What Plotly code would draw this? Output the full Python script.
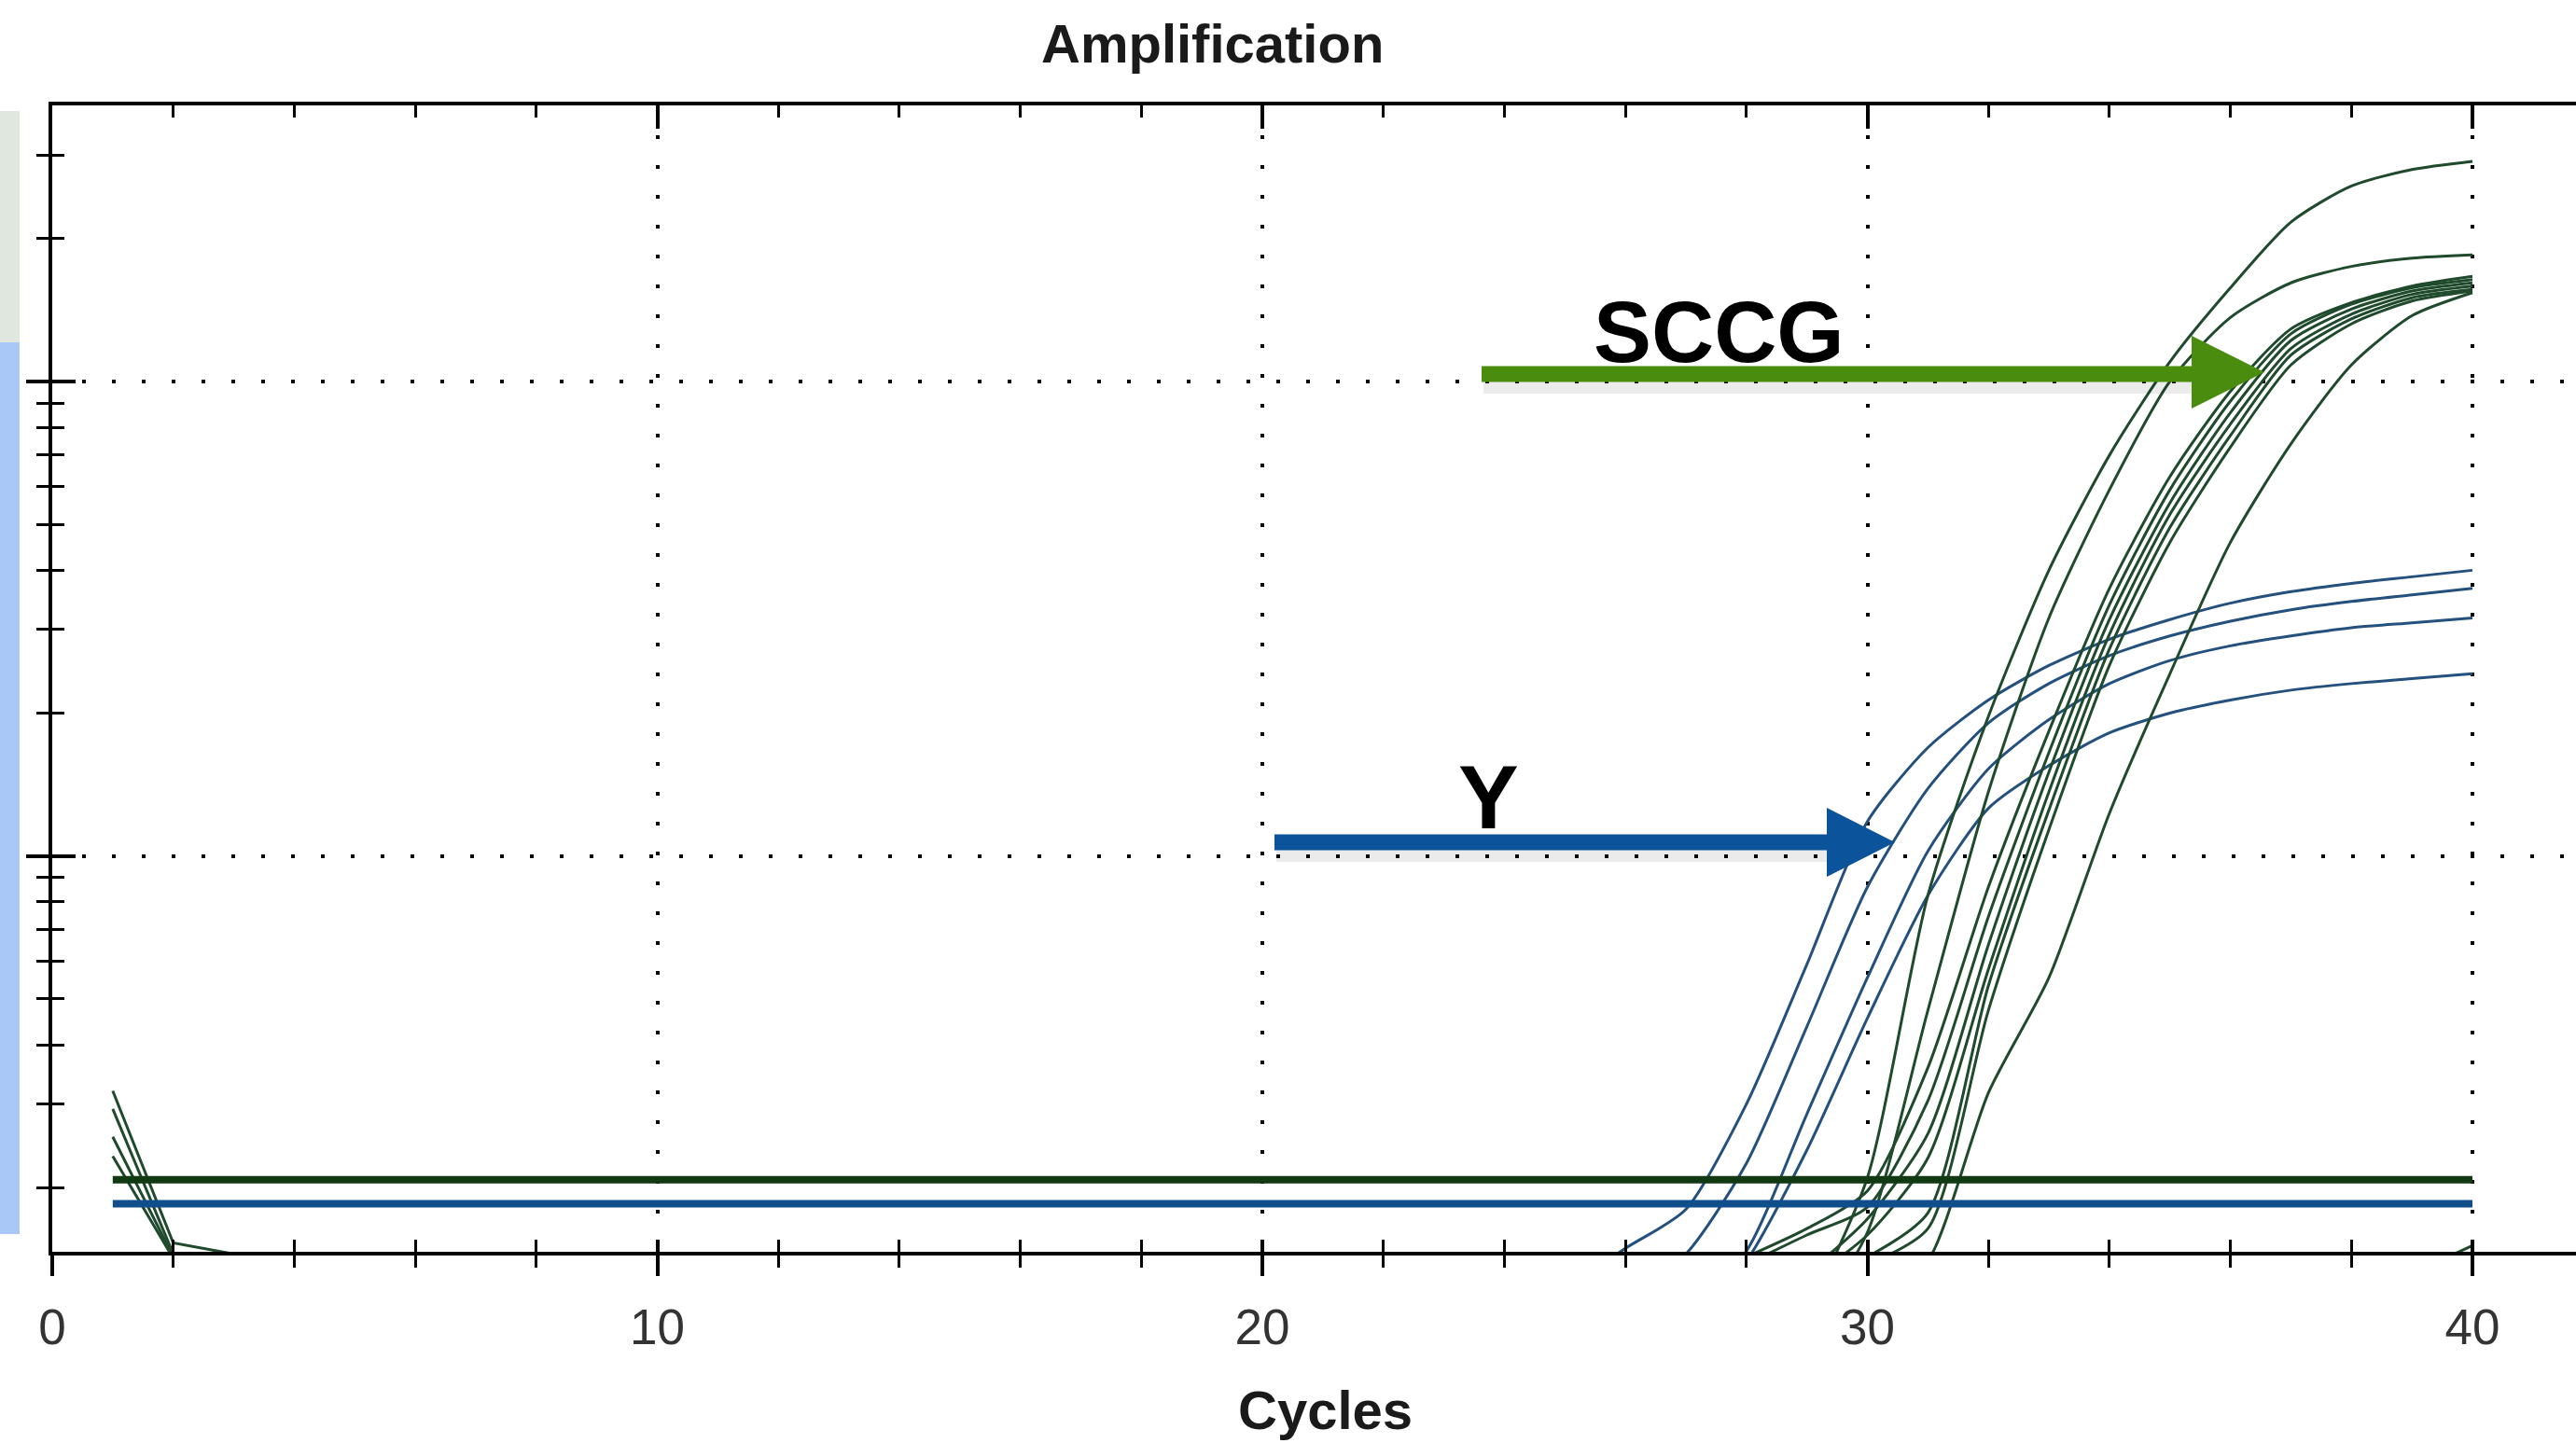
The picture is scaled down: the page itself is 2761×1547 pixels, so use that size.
import plotly.graph_objects as go

# ---------------- data ----------------
# early-cycle artefacts of the SCCG wells (cycles 1-3)
early_cycles = [1, 2, 3]
sccg_early = [
    [0.0320, 0.0153, 0.0145],
    [0.0293, 0.0145, 0.0138],
    [0.0256, 0.0143, 0.0132],
    [0.0233, 0.0142, 0.0127],
]

# Y-chromosome target (blue), cycles 25-40
y_cycles = list(range(25, 41))
y_curve_1 = [0.0122, 0.0149, 0.0180, 0.0300, 0.0591, 0.1182, 0.1692, 0.2131, 0.2520, 0.2862, 0.3149, 0.3410, 0.3606, 0.3754, 0.3875, 0.4000]
y_curve_2 = [None, 0.0117, 0.0145, 0.0225, 0.0437, 0.0860, 0.1387, 0.1907, 0.2308, 0.2643, 0.2908, 0.3124, 0.3303, 0.3438, 0.3549, 0.3663]
y_curve_3 = [None, None, 0.0108, 0.0147, 0.0286, 0.0554, 0.1024, 0.1526, 0.1937, 0.2308, 0.2581, 0.2772, 0.2908, 0.3026, 0.3099, 0.3174]
y_curve_4 = [None, None, 0.0100, 0.0140, 0.0240, 0.0455, 0.0826, 0.1260, 0.1550, 0.1817, 0.2000, 0.2131, 0.2236, 0.2308, 0.2364, 0.2421]
y_curves = [y_curve_1, y_curve_2, y_curve_3, y_curve_4]

# SCCG reference target (green), cycles 28-40
sccg_cycles = list(range(28, 41))
sccg_curve_1 = [None, 0.0108, 0.0210, 0.0826, 0.1968, 0.4000, 0.6987, 1.100, 1.575, 2.166, 2.581, 2.795, 2.909]
sccg_curve_2 = [None, 0.0100, 0.0161, 0.0473, 0.1365, 0.3174, 0.5910, 1.000, 1.364, 1.613, 1.747, 1.818, 1.847]
sccg_curve_3 = [0.0143, 0.0164, 0.0197, 0.0358, 0.0860, 0.1832, 0.3663, 0.6300, 0.9533, 1.290, 1.466, 1.588, 1.665]
sccg_curve_4 = [0.0138, 0.0159, 0.0182, 0.0305, 0.0745, 0.1652, 0.3383, 0.5910, 0.9089, 1.260, 1.454, 1.575, 1.639]
sccg_curve_5 = [None, 0.0132, 0.0172, 0.0260, 0.0650, 0.1502, 0.3149, 0.5546, 0.8597, 1.220, 1.420, 1.550, 1.613]
sccg_curve_6 = [None, 0.0127, 0.0159, 0.0231, 0.0577, 0.1365, 0.2931, 0.5244, 0.8130, 1.173, 1.386, 1.525, 1.588]
sccg_curve_7 = [None, None, 0.0143, 0.0177, 0.0533, 0.1250, 0.2729, 0.4922, 0.7689, 1.136, 1.354, 1.501, 1.562]
sccg_curve_8 = [None, None, 0.0138, 0.0164, 0.0473, 0.1136, 0.2520, 0.4581, 0.7271, 1.083, 1.322, 1.477, 1.550]
sccg_curve_9 = [None, None, 0.0108, 0.0140, 0.0317, 0.0554, 0.1230, 0.2421, 0.4581, 0.7388, 1.083, 1.375, 1.538]
sccg_curve_10 = [None, None, None, None, None, None, None, None, None, None, None, 0.0132, 0.0151]
sccg_curves = [sccg_curve_1, sccg_curve_2, sccg_curve_3, sccg_curve_4, sccg_curve_5,
               sccg_curve_6, sccg_curve_7, sccg_curve_8, sccg_curve_9, sccg_curve_10]

# thresholds
threshold_cycles = [1, 40]
sccg_threshold = 0.0208
y_threshold = 0.0185

# axis ticks
x_major_ticks = [0, 10, 20, 30, 40]
x_tick_labels = ["0", "10", "20", "30", "40"]
y_major_ticks = [0.1, 1]
y_minor_ticks = [0.02, 0.03, 0.04, 0.05, 0.06, 0.07, 0.08, 0.09,
                 0.2, 0.3, 0.4, 0.5, 0.6, 0.7, 0.8, 0.9, 2, 3]

# ---------------- styling / layout helpers ----------------
W, H = 2761, 1547
PL, PT, PB = 56, 113, 1342          # plot-area pixel edges
X_RANGE = [0, (W - PL) / 64.85]
Y_RANGE = [-1.834, 0.5816]
FONT = "Liberation Sans, Arial, sans-serif"

GREEN_CURVE = "#1f4a2c"
BLUE_CURVE = "#24507e"
GREEN_THR = "#113a12"
BLUE_THR = "#0f4e8b"
GREEN_ARROW = "#4a8c0d"
BLUE_ARROW = "#0b539a"


def px(X):
    return (X - PL) / (W - PL)


def py(Y):
    return (PB - Y) / (PB - PT)


fig = go.Figure()

for vals in sccg_early:
    fig.add_trace(go.Scatter(x=early_cycles, y=vals, mode="lines",
                             line=dict(color=GREEN_CURVE, width=3),
                             hoverinfo="skip", showlegend=False))

for vals in y_curves:
    fig.add_trace(go.Scatter(x=y_cycles, y=vals, mode="lines",
                             line=dict(color=BLUE_CURVE, width=3, shape="spline", smoothing=0.7),
                             connectgaps=False, hoverinfo="skip", showlegend=False))

for vals in sccg_curves:
    fig.add_trace(go.Scatter(x=sccg_cycles, y=vals, mode="lines",
                             line=dict(color=GREEN_CURVE, width=3, shape="spline", smoothing=0.7),
                             connectgaps=False, hoverinfo="skip", showlegend=False))

fig.add_trace(go.Scatter(x=threshold_cycles, y=[sccg_threshold] * 2, mode="lines",
                         line=dict(color=GREEN_THR, width=8), hoverinfo="skip", showlegend=False))
fig.add_trace(go.Scatter(x=threshold_cycles, y=[y_threshold] * 2, mode="lines",
                         line=dict(color=BLUE_THR, width=8), hoverinfo="skip", showlegend=False))

# invisible helpers so the overlay axes (extra tick marks) are drawn
fig.add_trace(go.Scatter(x=[1], y=[1], xaxis="x2", yaxis="y2", mode="markers",
                         marker=dict(opacity=0), hoverinfo="skip", showlegend=False))
fig.add_trace(go.Scatter(x=[1], y=[1], xaxis="x3", yaxis="y2", mode="markers",
                         marker=dict(opacity=0), hoverinfo="skip", showlegend=False))

dotted = "4px,28px"

fig.update_layout(
    width=W, height=H,
    margin=dict(l=PL, r=0, t=PT, b=H - PB, pad=0),
    paper_bgcolor="white", plot_bgcolor="white",
    showlegend=False,
    xaxis=dict(
        range=X_RANGE, tickmode="array", tickvals=x_major_ticks, ticktext=x_tick_labels,
        ticks="outside", ticklen=22, tickwidth=4, tickcolor="black",
        showline=True, linecolor="black", linewidth=4, zeroline=False,
        showgrid=True, gridcolor="black", gridwidth=4, griddash=dotted,
        minor=dict(ticks="outside", ticklen=13, tickwidth=3, tickcolor="black",
                   dtick=2, tick0=0, showgrid=False),
        tickfont=dict(family=FONT, size=53, color="#333333"),
        ticklabelstandoff=9, automargin=False, fixedrange=True,
    ),
    xaxis2=dict(
        overlaying="x", side="bottom", anchor="y", range=X_RANGE,
        tickmode="array", tickvals=x_major_ticks, ticks="inside", ticklen=13,
        tickwidth=4, tickcolor="black", showticklabels=False, showline=False,
        showgrid=False, zeroline=False,
        minor=dict(ticks="inside", ticklen=13, tickwidth=3, tickcolor="black",
                   dtick=2, tick0=0, showgrid=False),
        automargin=False, fixedrange=True,
    ),
    xaxis3=dict(
        overlaying="x", side="top", anchor="y", range=X_RANGE,
        tickmode="array", tickvals=x_major_ticks, ticks="inside", ticklen=25,
        tickwidth=4, tickcolor="black", showticklabels=False,
        showline=True, linecolor="black", linewidth=4,
        showgrid=False, zeroline=False,
        minor=dict(ticks="inside", ticklen=13, tickwidth=3, tickcolor="black",
                   dtick=2, tick0=0, showgrid=False),
        automargin=False, fixedrange=True,
    ),
    yaxis=dict(
        type="log", range=Y_RANGE, tickmode="array", tickvals=y_major_ticks,
        showticklabels=False, ticks="outside", ticklen=24, tickwidth=4, tickcolor="black",
        showline=True, linecolor="black", linewidth=4, zeroline=False,
        showgrid=True, gridcolor="black", gridwidth=4, griddash=dotted,
        minor=dict(tickmode="array", tickvals=y_minor_ticks, ticks="outside",
                   ticklen=13, tickwidth=3, tickcolor="black", showgrid=False),
        automargin=False, fixedrange=True,
    ),
    yaxis2=dict(
        overlaying="y", side="left", anchor="x", type="log", range=Y_RANGE,
        tickmode="array", tickvals=y_major_ticks, showticklabels=False,
        ticks="inside", ticklen=25, tickwidth=4, tickcolor="black",
        showline=False, showgrid=False, zeroline=False,
        minor=dict(tickmode="array", tickvals=y_minor_ticks, ticks="inside",
                   ticklen=13, tickwidth=3, tickcolor="black", showgrid=False),
        automargin=False, fixedrange=True,
    ),
)

shapes = []
# fragment of a neighbouring screenshot at the far left
shapes.append(dict(type="rect", xref="paper", yref="paper", x0=px(0), x1=px(21),
                   y0=py(367), y1=py(119), fillcolor="#dfe7de", line=dict(width=0), layer="below"))
shapes.append(dict(type="rect", xref="paper", yref="paper", x0=px(0), x1=px(21),
                   y0=py(1323), y1=py(367), fillcolor="#a9c7f7", line=dict(width=0), layer="below"))

# arrow shadows
shapes.append(dict(type="line", xref="paper", yref="paper", x0=px(1590), x1=px(2350),
                   y0=py(414), y1=py(414), line=dict(color="rgba(0,0,0,0.08)", width=16), layer="above"))
shapes.append(dict(type="line", xref="paper", yref="paper", x0=px(1368), x1=px(1960),
                   y0=py(916), y1=py(916), line=dict(color="rgba(0,0,0,0.08)", width=16), layer="above"))

# SCCG arrow
shapes.append(dict(type="line", xref="paper", yref="paper", x0=px(1588), x1=px(2352),
                   y0=py(401), y1=py(401), line=dict(color=GREEN_ARROW, width=17), layer="above"))
shapes.append(dict(type="path", xref="paper", yref="paper",
                   path=f"M {px(2349)} {py(360)} L {px(2427)} {py(399)} L {px(2349)} {py(438)} Z",
                   fillcolor=GREEN_ARROW, line=dict(width=0), layer="above"))
# Y arrow
shapes.append(dict(type="line", xref="paper", yref="paper", x0=px(1366), x1=px(1961),
                   y0=py(903), y1=py(903), line=dict(color=BLUE_ARROW, width=17), layer="above"))
shapes.append(dict(type="path", xref="paper", yref="paper",
                   path=f"M {px(1958)} {py(866)} L {px(2031)} {py(903)} L {px(1958)} {py(940)} Z",
                   fillcolor=BLUE_ARROW, line=dict(width=0), layer="above"))
fig.update_layout(shapes=shapes)

annotations = [
    dict(text="<b>Amplification</b>", x=px(1299), y=py(46.6), xref="paper", yref="paper",
         xanchor="center", yanchor="middle", showarrow=False,
         font=dict(family=FONT, size=58, color="#1a1a1a")),
    dict(text="<b>Cycles</b>", x=px(1420), y=py(1511.6), xref="paper", yref="paper",
         xanchor="center", yanchor="middle", showarrow=False,
         font=dict(family=FONT, size=58, color="#1a1a1a")),
    dict(text="<b>SCCG</b>", x=px(1842), y=py(356), xref="paper", yref="paper",
         xanchor="center", yanchor="middle", showarrow=False,
         font=dict(family=FONT, size=93, color="black")),
    dict(text="<b>Y</b>", x=px(1595), y=py(854), xref="paper", yref="paper",
         xanchor="center", yanchor="middle", showarrow=False,
         font=dict(family=FONT, size=97, color="black")),
]
fig.update_layout(annotations=annotations)

fig.write_html("out.html")
